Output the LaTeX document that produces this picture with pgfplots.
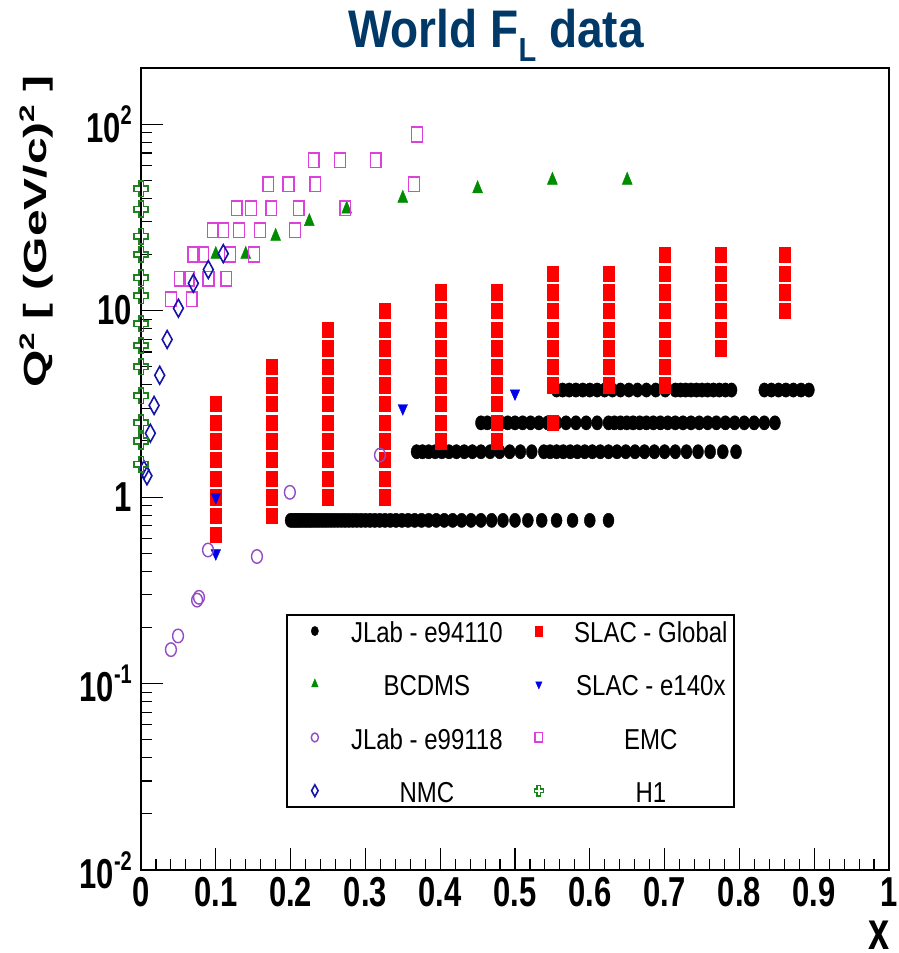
\documentclass[border=0pt]{standalone}
\usepackage{fontspec}
\setmainfont{Liberation Sans}
\usepackage{graphicx}
\usepackage{pgfplots}
\pgfplotsset{compat=1.18}

\definecolor{titleblue}{RGB}{0,56,104}
\definecolor{bcgreen}{RGB}{0,140,0}
\definecolor{hgreen}{RGB}{30,130,30}
\definecolor{violetc}{RGB}{145,75,195}
\definecolor{emcmag}{RGB}{220,65,220}
\definecolor{nmcblue}{RGB}{20,20,170}
\definecolor{slacred}{RGB}{255,0,0}
\definecolor{eblue}{RGB}{0,0,235}

\pgfdeclareplotmark{ocross}{%
  \pgfpathmoveto{\pgfqpoint{-0.35\pgfplotmarksize}{\pgfplotmarksize}}%
  \pgfpathlineto{\pgfqpoint{0.35\pgfplotmarksize}{\pgfplotmarksize}}%
  \pgfpathlineto{\pgfqpoint{0.35\pgfplotmarksize}{0.35\pgfplotmarksize}}%
  \pgfpathlineto{\pgfqpoint{\pgfplotmarksize}{0.35\pgfplotmarksize}}%
  \pgfpathlineto{\pgfqpoint{\pgfplotmarksize}{-0.35\pgfplotmarksize}}%
  \pgfpathlineto{\pgfqpoint{0.35\pgfplotmarksize}{-0.35\pgfplotmarksize}}%
  \pgfpathlineto{\pgfqpoint{0.35\pgfplotmarksize}{-\pgfplotmarksize}}%
  \pgfpathlineto{\pgfqpoint{-0.35\pgfplotmarksize}{-\pgfplotmarksize}}%
  \pgfpathlineto{\pgfqpoint{-0.35\pgfplotmarksize}{-0.35\pgfplotmarksize}}%
  \pgfpathlineto{\pgfqpoint{-\pgfplotmarksize}{-0.35\pgfplotmarksize}}%
  \pgfpathlineto{\pgfqpoint{-\pgfplotmarksize}{0.35\pgfplotmarksize}}%
  \pgfpathlineto{\pgfqpoint{-0.35\pgfplotmarksize}{0.35\pgfplotmarksize}}%
  \pgfpathclose
  \pgfusepathqstroke}

\newcommand{\lt}[1]{\makebox[122pt][c]{\scalebox{1}[1.2]{\rule[-3.4pt]{0pt}{24pt}#1}}}
\newcommand{\tsup}[1]{\raisebox{13pt}{\fontsize{20}{20}\selectfont #1}}
\newcommand{\ysup}[1]{\raisebox{12pt}{\fontsize{21}{21}\selectfont #1}}

\begin{document}
\begin{tikzpicture}
\begin{axis}[
  scale only axis,
  width=748pt, height=802pt,
  xmin=0, xmax=1,
  ymode=log, ymin=0.01, ymax=200,
  enlargelimits=false,
  axis line style={line width=1.5pt},
  tick pos=left,
  tick align=inside,
  major tick length=22pt,
  minor tick length=11pt,
  tick style={black, line width=1.1pt},
  xtick={0,0.1,0.2,0.3,0.4,0.5,0.6,0.7,0.8,0.9,1},
  xticklabels={0,0.1,0.2,0.3,0.4,0.5,0.6,0.7,0.8,0.9,1},
  minor x tick num=4,
  ytick={0.01,0.1,1,10,100},
  yticklabels={10\tsup{-2},10\tsup{-1},1,10,10\tsup{2}},
  ticklabel style={font=\bfseries\fontsize{31}{31}\selectfont},
  xticklabel style={anchor=north, inner sep=0pt, yshift=-7pt, yscale=1.35},
  yticklabel style={anchor=east, inner sep=0pt, xshift=-9pt, yscale=1.35},
  xlabel={x},
  xlabel style={at={(axis description cs:1,0)}, anchor=base east, inner sep=0pt, xshift=1pt, yshift=-79pt, font=\bfseries\fontsize{38}{38}\selectfont, yscale=1.42},
  legend columns=2,
  legend cell align=center,
  legend style={at={(rel axis cs:0.194,0.319)}, anchor=north west, draw=black, line width=1.5pt, fill=white,
    inner xsep=20pt, inner ysep=1pt, /tikz/column sep=41pt, /tikz/row sep=23pt,
    font=\fontsize{24}{24}\selectfont, cells={anchor=center, inner sep=0pt}},
  legend image code/.code={\path[draw=none] (-8pt,0pt) (8pt,0pt); \draw[#1,/tikz/every mark/.append style={scale=0.66}] plot coordinates {(0pt,0pt)};},
]

% JLab e94110 (Q2 = 0.75, 1.75, 2.5, 3.75)
\addplot[only marks, color=black, line width=0.4pt, mark=*, mark size=5.5pt, mark options={yscale=1.3, fill=black, draw=black}] coordinates {
(0.625,0.75)(0.6,0.75)(0.5769,0.75)(0.5556,0.75)(0.5357,0.75)(0.5172,0.75)(0.5,0.75)(0.4839,0.75)(0.4688,0.75)(0.4545,0.75)
(0.4412,0.75)(0.4286,0.75)(0.4167,0.75)(0.4054,0.75)(0.3947,0.75)(0.3846,0.75)(0.375,0.75)(0.3659,0.75)(0.3571,0.75)(0.3488,0.75)
(0.3409,0.75)(0.3333,0.75)(0.3261,0.75)(0.3191,0.75)(0.3125,0.75)(0.3061,0.75)(0.3,0.75)(0.2941,0.75)(0.2885,0.75)(0.2830,0.75)
(0.2778,0.75)(0.2727,0.75)(0.2679,0.75)(0.2632,0.75)(0.2586,0.75)(0.2542,0.75)(0.25,0.75)(0.2459,0.75)(0.2419,0.75)(0.2381,0.75)
(0.2344,0.75)(0.2308,0.75)(0.2273,0.75)(0.2239,0.75)(0.2206,0.75)(0.2174,0.75)(0.2143,0.75)(0.2113,0.75)(0.2083,0.75)(0.2055,0.75)
(0.2027,0.75)(0.2,0.75)
(0.7955,1.75)(0.7778,1.75)(0.7609,1.75)(0.7447,1.75)(0.7292,1.75)(0.7143,1.75)(0.7,1.75)(0.6863,1.75)(0.6731,1.75)(0.6604,1.75)
(0.6481,1.75)(0.6364,1.75)(0.625,1.75)(0.6140,1.75)(0.6034,1.75)(0.5932,1.75)(0.5833,1.75)(0.5738,1.75)(0.5645,1.75)(0.5556,1.75)
(0.5469,1.75)(0.5385,1.75)(0.5224,1.75)(0.5072,1.75)(0.4930,1.75)(0.4795,1.75)(0.4667,1.75)(0.4545,1.75)(0.4430,1.75)(0.4321,1.75)
(0.4217,1.75)(0.4118,1.75)(0.4023,1.75)(0.3932,1.75)(0.3846,1.75)(0.3763,1.75)(0.3684,1.75)
(0.8475,2.5)(0.8333,2.5)(0.8197,2.5)(0.8065,2.5)(0.7937,2.5)(0.7813,2.5)(0.7692,2.5)(0.7576,2.5)(0.7463,2.5)(0.7353,2.5)
(0.7246,2.5)(0.7143,2.5)(0.7042,2.5)(0.6944,2.5)(0.6849,2.5)(0.6757,2.5)(0.6667,2.5)(0.6579,2.5)(0.6494,2.5)(0.6410,2.5)
(0.6329,2.5)(0.625,2.5)(0.6098,2.5)(0.5952,2.5)(0.5814,2.5)(0.5682,2.5)(0.5556,2.5)(0.5435,2.5)(0.5319,2.5)(0.5208,2.5)
(0.5102,2.5)(0.5,2.5)(0.4902,2.5)(0.4808,2.5)(0.4717,2.5)(0.4630,2.5)(0.4545,2.5)
(0.8929,3.75)(0.8824,3.75)(0.8721,3.75)(0.8621,3.75)(0.8523,3.75)(0.8427,3.75)(0.8333,3.75)
(0.7895,3.75)(0.7813,3.75)(0.7732,3.75)(0.7653,3.75)(0.7576,3.75)(0.75,3.75)(0.7426,3.75)(0.7353,3.75)(0.7282,3.75)(0.7212,3.75)
(0.7143,3.75)(0.7009,3.75)(0.6881,3.75)(0.6757,3.75)(0.6637,3.75)(0.6522,3.75)(0.6410,3.75)(0.6303,3.75)(0.6198,3.75)(0.6098,3.75)
(0.6,3.75)(0.5906,3.75)(0.5814,3.75)(0.5725,3.75)(0.5637,3.75)(0.5556,3.75)
};
\addlegendentry{\lt{JLab - e94110}}

% SLAC Global
\addplot[only marks, color=slacred, line width=0.1pt, mark=square*, mark size=5.5pt, mark options={yscale=1.4, fill=slacred, draw=slacred}] coordinates {
(0.1,0.631)(0.1,0.794)(0.1,1.0)(0.1,1.259)(0.1,1.585)(0.1,1.995)(0.1,2.512)(0.1,3.162)
(0.175,0.794)(0.175,1.0)(0.175,1.259)(0.175,1.585)(0.175,1.995)(0.175,2.512)(0.175,3.162)(0.175,3.981)(0.175,5.012)
(0.25,1.0)(0.25,1.259)(0.25,1.585)(0.25,1.995)(0.25,2.512)(0.25,3.162)(0.25,3.981)(0.25,5.012)(0.25,6.310)(0.25,7.943)
(0.325,1.0)(0.325,1.259)(0.325,1.585)(0.325,1.995)(0.325,2.512)(0.325,3.162)(0.325,3.981)(0.325,5.012)(0.325,6.310)(0.325,7.943)(0.325,10.0)
(0.4,1.995)(0.4,2.512)(0.4,3.162)(0.4,3.981)(0.4,5.012)(0.4,6.310)(0.4,7.943)(0.4,10.0)(0.4,12.59)
(0.475,1.995)(0.475,2.512)(0.475,3.162)(0.475,3.981)(0.475,5.012)(0.475,6.310)(0.475,7.943)(0.475,10.0)(0.475,12.59)
(0.55,2.512)(0.55,3.981)(0.55,5.012)(0.55,6.310)(0.55,7.943)(0.55,10.0)(0.55,12.59)(0.55,15.85)
(0.625,3.981)(0.625,5.012)(0.625,6.310)(0.625,7.943)(0.625,10.0)(0.625,12.59)(0.625,15.85)
(0.7,3.981)(0.7,5.012)(0.7,6.310)(0.7,7.943)(0.7,10.0)(0.7,12.59)(0.7,15.85)(0.7,19.95)
(0.775,6.310)(0.775,7.943)(0.775,10.0)(0.775,12.59)(0.775,15.85)(0.775,19.95)
(0.86,10.0)(0.86,12.59)(0.86,15.85)(0.86,19.95)
};
\addlegendentry{\lt{SLAC - Global}}

% BCDMS
\addplot[only marks, color=bcgreen, line width=0.4pt, mark=triangle*, mark size=5.8pt, mark options={yscale=1.4, fill=bcgreen, draw=bcgreen}] coordinates {
(0.1,20)(0.14,20)(0.18,25)(0.225,30)(0.275,35)(0.35,40)(0.45,45)(0.55,50)(0.65,50)
};
\addlegendentry{\lt{BCDMS}}

% SLAC e140x
\addplot[only marks, color=eblue, line width=0.4pt, mark=triangle*, mark size=5.5pt, mark options={rotate=180, yscale=1.3, fill=eblue, draw=eblue}] coordinates {
(0.1,0.5)(0.1,1.0)(0.35,3.0)(0.5,3.6)
};
\addlegendentry{\lt{SLAC - e140x}}

% JLab e99118
\addplot[only marks, color=violetc, line width=1.4pt, mark=o, mark size=5.4pt, mark options={yscale=1.25, draw=violetc}] coordinates {
(0.0896,0.52)(0.155,0.48)(0.0775,0.29)(0.075,0.28)(0.0495,0.18)(0.040,0.152)(0.199,1.06)(0.3195,1.68)
};
\addlegendentry{\lt{JLab - e99118}}

% EMC
\addplot[only marks, color=emcmag, line width=1.6pt, mark=square, mark size=5.4pt, mark options={yscale=1.35, draw=emcmag}] coordinates {
(0.369,88)
(0.231,64)(0.266,64)(0.314,64)
(0.365,47.5)(0.170,47.5)(0.197,47.5)(0.233,47.5)
(0.128,35.4)(0.147,35.4)(0.174,35.4)(0.211,35.4)(0.273,35.4)
(0.096,27)(0.110,27)(0.131,27)(0.159,27)(0.206,27)
(0.070,20)(0.083,20)(0.119,20)(0.151,20)
(0.052,14.8)(0.064,14.8)(0.090,14.8)(0.114,14.8)
(0.040,11.5)(0.068,11.5)
};
\addlegendentry{\lt{EMC}}

% NMC
\addplot[only marks, color=nmcblue, line width=1.6pt, mark=diamond, mark size=6.6pt, mark options={yscale=1.35, draw=nmcblue}] coordinates {
(0.004,1.4)(0.008,1.3)(0.0125,2.2)(0.0175,3.1)(0.025,4.5)(0.035,7.0)(0.05,10.3)(0.07,14)(0.09,16.6)(0.11,20.2)
};
\addlegendentry{\lt{NMC}}

% H1
\addplot[only marks, color=hgreen, line width=1.7pt, mark=ocross, mark size=6.8pt, mark options={yscale=1.15, draw=hgreen}] coordinates {
(0.0002,1.5)(0.0002,2)(0.0002,2.5)(0.0002,3.5)(0.0002,5)(0.0002,6.5)(0.0002,8.5)(0.0002,12)(0.0002,15)(0.0002,20)(0.0002,25)(0.0002,35)(0.0002,45)
};
\addlegendentry{\lt{H1}}
\end{axis}

\node[rotate=90, xscale=1.5, anchor=east, inner sep=0pt, font=\bfseries\fontsize{32}{32}\selectfont] at (-105pt,795pt) {Q\ysup{2} [ (GeV/c)\ysup{2} ]};
\node[anchor=base, yscale=1.15, inner sep=0pt, text=titleblue, font=\bfseries\fontsize{46}{46}\selectfont] at (355pt,822pt) {World F\raisebox{-12pt}{\fontsize{29}{29}\selectfont L} data};

\pgfresetboundingbox
\path (-141pt,-83pt) rectangle (757pt,870pt);
\end{tikzpicture}
\end{document}
